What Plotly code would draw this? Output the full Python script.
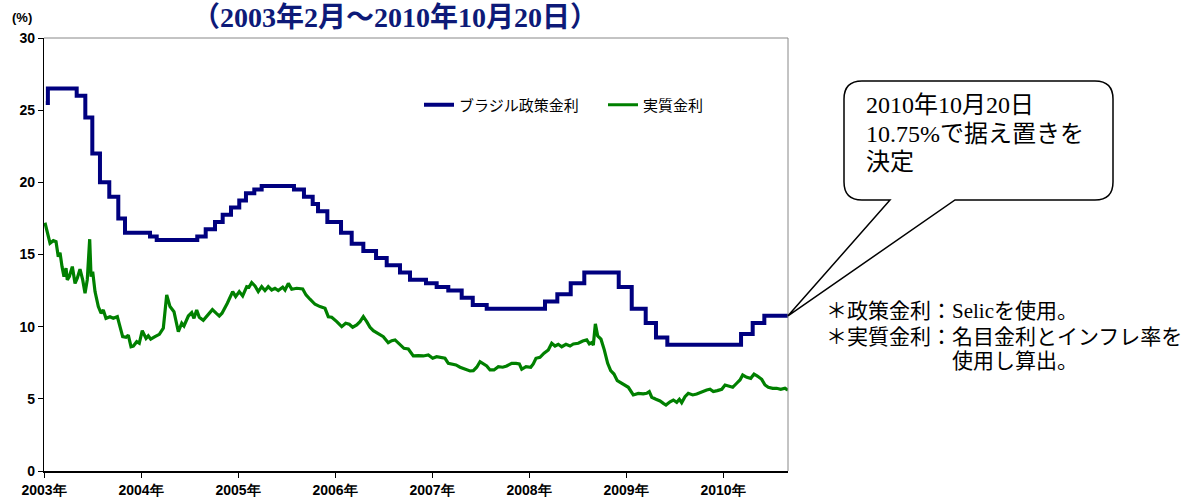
import plotly.graph_objects as go

# ---- data (decimal years) ----
policy_dates = [2003.018, 2003.040, 2003.337, 2003.426, 2003.498, 2003.577, 2003.673, 2003.766,
                2003.835, 2004.093, 2004.162, 2004.580, 2004.667, 2004.763, 2004.842, 2004.928,
                2005.013, 2005.082, 2005.168, 2005.244, 2005.577, 2005.680, 2005.770, 2005.825,
                2005.921, 2006.062, 2006.172, 2006.292, 2006.423, 2006.533, 2006.670, 2006.773,
                2006.938, 2007.048, 2007.168, 2007.306, 2007.420, 2007.564, 2008.165, 2008.292,
                2008.430, 2008.570, 2008.925, 2009.059, 2009.203, 2009.309, 2009.426, 2010.186,
                2010.306, 2010.426, 2010.670]
policy_rates = [25.5, 26.5, 26.0, 24.5, 22.0, 20.0, 19.0, 17.5,
                16.5, 16.25, 16.0, 16.25, 16.75, 17.25, 17.75, 18.25,
                18.75, 19.25, 19.5, 19.75, 19.5, 19.0, 18.5, 18.0,
                17.25, 16.5, 15.75, 15.25, 14.75, 14.25, 13.75, 13.25,
                13.0, 12.75, 12.5, 12.0, 11.5, 11.25, 11.75, 12.25,
                13.0, 13.75, 12.75, 11.25, 10.25, 9.25, 8.75, 9.5,
                10.25, 10.75, 10.75]

real_dates = [2003.010, 2003.034, 2003.062, 2003.096, 2003.124, 2003.147, 2003.165, 2003.186,
              2003.206, 2003.227, 2003.240, 2003.261, 2003.292, 2003.320, 2003.343, 2003.371,
              2003.399, 2003.423, 2003.446, 2003.471, 2003.485, 2003.502, 2003.526, 2003.560,
              2003.588, 2003.611, 2003.639, 2003.680, 2003.714, 2003.756, 2003.784, 2003.811,
              2003.845, 2003.869, 2003.897, 2003.921, 2003.956, 2003.982, 2004.013, 2004.052,
              2004.075, 2004.100, 2004.144, 2004.189, 2004.230, 2004.265, 2004.299, 2004.340,
              2004.385, 2004.420, 2004.443, 2004.488, 2004.523, 2004.546, 2004.574, 2004.601,
              2004.642, 2004.694, 2004.736, 2004.780, 2004.807, 2004.835, 2004.859, 2004.890,
              2004.945, 2004.976, 2005.013, 2005.048, 2005.090, 2005.113, 2005.141, 2005.175,
              2005.209, 2005.244, 2005.278, 2005.312, 2005.347, 2005.381, 2005.415, 2005.461,
              2005.485, 2005.519, 2005.554, 2005.605, 2005.667, 2005.701, 2005.742, 2005.794,
              2005.845, 2005.897, 2005.931, 2005.966, 2006.018, 2006.069, 2006.110, 2006.147,
              2006.182, 2006.224, 2006.258, 2006.292, 2006.327, 2006.361, 2006.395, 2006.446,
              2006.498, 2006.549, 2006.585, 2006.619, 2006.663, 2006.711, 2006.756, 2006.807,
              2006.859, 2006.910, 2006.962, 2007.007, 2007.048, 2007.100, 2007.134, 2007.168,
              2007.213, 2007.247, 2007.289, 2007.340, 2007.392, 2007.426, 2007.461, 2007.495,
              2007.529, 2007.564, 2007.598, 2007.639, 2007.684, 2007.729, 2007.770, 2007.822,
              2007.866, 2007.900, 2007.925, 2007.969, 2008.018, 2008.044, 2008.072, 2008.113,
              2008.155, 2008.199, 2008.234, 2008.268, 2008.302, 2008.337, 2008.381, 2008.423,
              2008.457, 2008.508, 2008.554, 2008.595, 2008.622, 2008.646, 2008.663, 2008.684,
              2008.708, 2008.742, 2008.776, 2008.811, 2008.842, 2008.876, 2008.910, 2008.945,
              2008.979, 2009.024, 2009.075, 2009.127, 2009.178, 2009.213, 2009.240, 2009.265,
              2009.309, 2009.351, 2009.385, 2009.412, 2009.454, 2009.488, 2009.523, 2009.550,
              2009.574, 2009.608, 2009.642, 2009.688, 2009.729, 2009.763, 2009.797, 2009.832,
              2009.866, 2009.900, 2009.941, 2009.987, 2010.021, 2010.065, 2010.100, 2010.141,
              2010.175, 2010.203, 2010.245, 2010.286, 2010.320, 2010.354, 2010.399, 2010.433,
              2010.467, 2010.512, 2010.553, 2010.595, 2010.639, 2010.670]
real_rates = [17.2, 16.47, 15.78, 15.96, 15.89, 14.85, 15.13, 14.16,
              13.47, 14.05, 13.24, 13.47, 14.16, 13.0, 13.35, 13.98,
              13.24, 12.31, 13.24, 16.06, 13.47, 13.81, 12.43, 11.39,
              10.93, 11.16, 10.58, 10.69, 10.58, 10.69, 9.89, 9.31,
              9.26, 9.42, 8.61, 8.66, 8.96, 8.85, 9.72, 9.19,
              9.36, 9.13, 9.31, 9.47, 9.89, 12.2, 11.39, 11.04,
              9.65, 10.24, 10.05, 10.74, 10.97, 10.58, 11.16, 10.65,
              10.44, 10.9, 11.18, 10.9, 10.74, 10.93, 11.2, 11.62,
              12.43, 12.08, 12.43, 12.13, 12.77, 12.73, 13.05, 12.82,
              12.43, 12.77, 12.5, 12.77, 12.54, 12.66, 12.5, 12.73,
              12.54, 13.0, 12.59, 12.66, 12.61, 12.2, 11.9, 11.55,
              11.39, 11.27, 10.69, 10.65, 10.35, 10.0, 10.24, 10.17,
              9.96, 10.12, 10.35, 10.69, 10.35, 9.96, 9.72, 9.54,
              9.31, 8.89, 9.03, 9.08, 8.8, 8.5, 8.45, 7.97,
              7.99, 7.97, 8.04, 7.81, 7.92, 7.88, 7.81, 7.46,
              7.42, 7.35, 7.19, 7.05, 6.93, 6.95, 7.19, 7.57,
              7.42, 7.28, 7.0, 7.0, 7.23, 7.19, 7.28, 7.46,
              7.46, 7.42, 7.05, 7.23, 7.19, 7.42, 7.81, 7.88,
              8.16, 8.39, 8.85, 8.66, 8.78, 8.61, 8.78, 8.66,
              8.8, 8.85, 9.01, 9.08, 8.8, 8.89, 8.73, 10.19,
              9.36, 9.13, 8.39, 7.46, 6.95, 6.72, 6.26, 6.12,
              6.03, 5.8, 5.27, 5.38, 5.34, 5.38, 5.5, 5.11,
              4.97, 4.85, 4.69, 4.57, 4.8, 4.92, 4.76, 4.97,
              4.73, 5.15, 5.38, 5.27, 5.34, 5.43, 5.57, 5.61,
              5.66, 5.5, 5.57, 5.66, 5.96, 5.89, 5.8, 6.08,
              6.31, 6.65, 6.49, 6.42, 6.72, 6.58, 6.35, 5.96,
              5.8, 5.73, 5.73, 5.66, 5.73, 5.61]

year_ticks = [2003, 2004, 2005, 2006, 2007, 2008, 2009, 2010]
year_labels = ["2003年", "2004年", "2005年", "2006年", "2007年", "2008年", "2009年", "2010年"]
y_ticks = [0, 5, 10, 15, 20, 25, 30]

series_names = ["ブラジル政策金利", "実質金利"]
title_text = "（2003年2月～2010年10月20日）"
callout_lines = ["2010年10月20日", "10.75%で据え置きを", "決定"]
note_lines = ["＊政策金利：Selicを使用。", "＊実質金利：名目金利とインフレ率を", "使用し算出。"]

# ---- layout geometry (pixels) ----
W, H = 1194, 500
L, R, T, B = 44, 788, 38, 471


def px(x):
    return (x - L) / (R - L)


def py(y):
    return (B - y) / (B - T)


fig = go.Figure()
fig.add_trace(go.Scatter(x=policy_dates, y=policy_rates, mode="lines", name=series_names[0],
                         line=dict(color="#00007f", width=4, shape="hv")))
fig.add_trace(go.Scatter(x=real_dates, y=real_rates, mode="lines", name=series_names[1],
                         line=dict(color="#008000", width=3.2)))

axis_font = dict(family="Liberation Sans Narrow, Liberation Sans, Arial", size=14,
                 color="black", weight="bold")

fig.update_layout(
    width=W, height=H,
    margin=dict(l=L, r=W - R, t=T, b=H - B, pad=0, autoexpand=False),
    paper_bgcolor="white", plot_bgcolor="white",
    showlegend=True,
    legend=dict(orientation="h", x=px(419), y=py(105), xanchor="left", yanchor="middle",
                font=dict(family="Noto Sans CJK JP", size=15, color="black"),
                itemwidth=30, entrywidth=139, bgcolor="rgba(0,0,0,0)", tracegroupgap=0),
    xaxis=dict(range=[2003, policy_dates[-1]], tickvals=year_ticks, ticktext=year_labels,
               showgrid=False, zeroline=False, showline=True, linecolor="black", linewidth=1.5,
               ticks="outside", ticklen=5, tickcolor="black", automargin=False,
               tickfont=axis_font),
    yaxis=dict(range=[0, 30], tickvals=y_ticks, showgrid=False, zeroline=False,
               showline=True, linecolor="black", linewidth=1.2, automargin=False,
               ticks="outside", ticklen=5, tickcolor="black",
               tickfont=axis_font),
)

# grey frame top/right
fig.add_shape(type="line", xref="paper", yref="paper", x0=0, x1=1, y0=1, y1=1,
              line=dict(color="#888888", width=1))
fig.add_shape(type="line", xref="paper", yref="paper", x0=1, x1=1, y0=0, y1=1,
              line=dict(color="#888888", width=1))

# title and unit
fig.add_annotation(text=title_text, xref="paper", yref="paper", x=px(395), y=py(18),
                   showarrow=False, xanchor="center", yanchor="middle",
                   font=dict(family="Liberation Serif, Noto Sans CJK JP", size=28,
                             color="#0d1a78", weight="bold"))
fig.add_annotation(text="(%)", xref="paper", yref="paper", x=px(22), y=py(18),
                   showarrow=False, xanchor="center", yanchor="middle",
                   font=dict(family="Liberation Sans Narrow, Liberation Sans", size=13,
                             color="black", weight="bold"))

# callout bubble
tip_x = 1.0
tip_y = policy_rates[-1] / 30.0
bx0, bx1, by0, by1, rr = 844, 1113, 81, 200, 18


def P(x, y):
    return f"{px(x):.5f},{py(y):.5f}"


path = (f"M {P(bx0 + rr, by0)} L {P(bx1 - rr, by0)} Q {P(bx1, by0)} {P(bx1, by0 + rr)} "
        f"L {P(bx1, by1 - rr)} Q {P(bx1, by1)} {P(bx1 - rr, by1)} "
        f"L {P(955, by1)} L {tip_x:.5f},{tip_y:.5f} L {P(890, by1)} "
        f"L {P(bx0 + rr, by1)} Q {P(bx0, by1)} {P(bx0, by1 - rr)} "
        f"L {P(bx0, by0 + rr)} Q {P(bx0, by0)} {P(bx0 + rr, by0)} Z")
fig.add_shape(type="path", xref="paper", yref="paper", path=path,
              line=dict(color="black", width=1.5), fillcolor="white")

serif = "Liberation Serif, Noto Sans CJK JP"
for i, t in enumerate(callout_lines):
    fig.add_annotation(text=t, xref="paper", yref="paper", x=px(864), y=py(105 + 28.5 * i),
                       showarrow=False, xanchor="left", yanchor="middle",
                       font=dict(family=serif, size=24, color="black"))

note_pos = [(824, 311), (824, 337), (950, 361)]
for (nx, ny), t in zip(note_pos, note_lines):
    fig.add_annotation(text=t, xref="paper", yref="paper", x=px(nx), y=py(ny),
                       showarrow=False, xanchor="left", yanchor="middle",
                       font=dict(family=serif, size=21, color="black"))

fig.write_html("out.html", config={"displayModeBar": False},
               post_script="document.body.style.margin='0';")
